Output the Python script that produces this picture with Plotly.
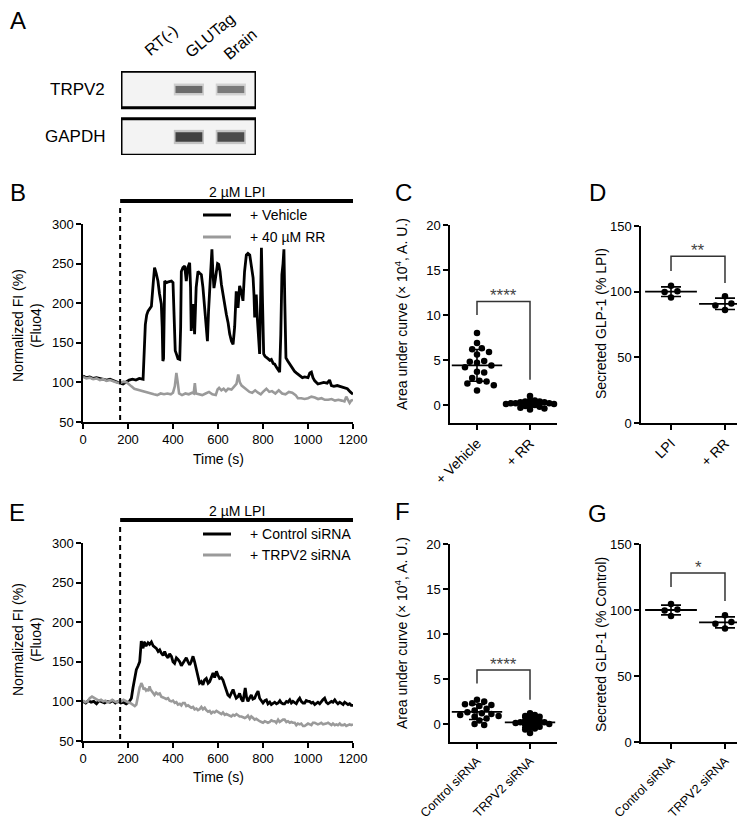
import numpy as np
import plotly.graph_objects as go

# ---------------- DATA ----------------
# Panel A (RT-PCR gel): band intensities (0 = none)
gel_lanes = ["RT(-)", "GLUTag", "Brain"]
gel_genes = ["GAPDH", "TRPV2"]            # row 0, row 1
gel_intensity = [[0.0, 0.80, 0.76],      # GAPDH
                 [0.0, 0.62, 0.56]]      # TRPV2

# Panel B: calcium traces, time (s) / normalized FI (%)
veh_t = [0, 15, 30, 45, 60, 75, 90, 105, 120, 135, 150, 165, 178, 190, 205, 220, 235, 250, 267,
         277, 283, 289, 297, 304, 312, 318, 325, 333, 340, 348, 352, 355, 358, 363, 372, 380, 393,
         400, 404, 410, 415, 422, 430, 434, 437, 444, 452, 456, 459, 466, 474, 478, 481, 485, 489,
         493, 496, 503, 511, 518, 526, 533, 541, 547, 553, 558, 563, 568, 573, 577, 582, 588, 593,
         598, 603, 609, 615, 625, 637, 645, 652, 660, 667, 674, 681, 685, 689, 696, 703, 711, 718,
         726, 733, 741, 748, 756, 760, 763, 767, 770, 775, 781, 785, 789, 793, 798, 803, 809, 815,
         822, 830, 837, 845, 852, 860, 867, 874, 879, 884, 889, 893, 897, 902, 910, 919, 930, 940,
         948, 956, 965, 975, 985, 1000, 1008, 1015, 1022, 1030, 1044, 1055, 1070, 1085, 1096, 1104,
         1115, 1130, 1148, 1160, 1175, 1188, 1200]
veh_fi = [108, 106, 107, 105, 106, 105, 104, 103, 104, 102, 101, 99, 98, 100, 103, 104, 103, 105, 104,
          173, 185, 190, 193, 196, 225, 245, 238, 228, 212, 199, 170, 127, 130, 228, 226, 227, 228,
          226, 190, 140, 136, 130, 129, 170, 240, 245, 247, 230, 228, 245, 251, 220, 165, 180, 199,
          180, 161, 220, 240, 238, 236, 220, 194, 170, 152, 190, 219, 245, 268, 240, 219, 230, 245,
          250, 249, 240, 224, 205, 186, 175, 161, 152, 148, 170, 215, 205, 194, 222, 215, 203, 240,
          261, 263, 261, 245, 232, 210, 182, 200, 211, 180, 150, 136, 200, 270, 200, 136, 133, 131,
          130, 128, 129, 124, 123, 119, 116, 113, 160, 236, 250, 268, 200, 131, 127, 123, 118, 114,
          112, 110, 108, 106, 107, 106, 112, 113, 106, 102, 98, 99, 100, 99, 103, 96,
          95, 96, 94, 93, 92, 88, 85]
rr_t = [0, 15, 30, 45, 60, 75, 90, 105, 120, 135, 150, 165, 180, 195, 205, 215, 228, 240, 255, 270,
        285, 300, 315, 330, 345, 360, 375, 390, 400, 408, 415, 421, 427, 440, 455, 470, 485, 492, 497,
        502, 515, 530, 545, 560, 575, 590, 598, 605, 615, 625, 635, 645, 660, 672, 682, 690, 697, 705,
        715, 728, 740, 752, 765, 778, 790, 800, 815, 828, 840, 855, 870, 885, 900, 915, 930, 945, 955,
        970, 985, 1000, 1015, 1030, 1045, 1060, 1075, 1090, 1105, 1120, 1135, 1150, 1162, 1170, 1178,
        1185, 1192, 1200]
rr_fi = [107, 105, 106, 104, 105, 103, 104, 102, 103, 101, 100, 99, 101, 100, 97, 95, 92, 91, 89, 88,
         87, 86, 85, 84, 86, 85, 86, 85, 87, 95, 112, 100, 86, 84, 86, 85, 87, 86, 99,
         86, 85, 84, 86, 88, 85, 84, 91, 93, 90, 92, 89, 92, 91, 95, 98, 110, 100, 96,
         94, 91, 88, 87, 90, 87, 85, 88, 92, 88, 89, 86, 90, 86, 85, 88, 87, 84, 80,
         80, 79, 80, 82, 81, 79, 80, 78, 78, 79, 77, 78, 77, 76, 82, 78,
         74, 77, 78]

# Panel E: calcium traces
ctl_t = [0, 12, 24, 36, 48, 60, 72, 84, 96, 108, 120, 132, 144, 156, 168, 180, 192, 204, 215, 222, 230,
         237, 245, 252, 259, 263, 267, 271, 274, 280, 289, 296, 304, 312, 319, 326, 334, 341, 348, 356,
         363, 370, 378, 385, 393, 400, 407, 415, 422, 430, 437, 444, 452, 459, 467, 474, 481, 489, 496,
         504, 511, 518, 526, 533, 540, 548, 556, 563, 570, 578, 585, 593, 600, 607, 615, 622, 630, 637,
         644, 652, 659, 667, 674, 681, 689, 696, 704, 711, 716, 721, 727, 733, 740, 748, 755, 763, 770,
         778, 785, 793, 800, 808, 815, 822, 830, 837, 845, 852, 860, 867, 875, 882, 889, 896, 904, 911,
         919, 926, 933, 941, 948, 955, 963, 970, 978, 985, 992, 1000, 1007, 1015, 1022, 1030, 1037, 1044,
         1052, 1059, 1066, 1074, 1081, 1089, 1096, 1104, 1111, 1119, 1126, 1133, 1141, 1148, 1156, 1163,
         1170, 1178, 1185, 1192, 1200]
ctl_fi = [100, 98, 101, 99, 100, 97, 101, 99, 98, 100, 99, 101, 98, 100, 98, 99, 97, 99, 104, 117, 128,
          140, 145, 150, 176, 170, 167, 175, 174, 170, 174, 172, 175, 170, 168, 167, 163, 165, 161, 158,
          163, 158, 155, 160, 157, 150, 148, 155, 153, 150, 145, 148, 151, 155, 150, 146, 150, 157, 150,
          140, 132, 123, 125, 121, 127, 129, 123, 125, 130, 136, 130, 138, 133, 129, 130, 127, 120, 113,
          108, 106, 110, 115, 109, 104, 106, 110, 103, 100, 108, 117, 105, 100, 104, 108, 103, 104, 109,
          113, 104, 100, 98, 101, 102, 97, 99, 96, 98, 99, 97, 98, 101, 98, 97, 97, 100, 99,
          102, 98, 100, 98, 97, 101, 104, 100, 98, 98, 101, 100, 100, 98, 99, 96, 98, 99,
          97, 100, 102, 104, 99, 97, 98, 100, 99, 102, 99, 97, 99, 98, 96, 99,
          98, 96, 97, 95, 95]
si_t = [0, 10, 20, 30, 40, 50, 60, 70, 80, 90, 100, 110, 120, 130, 140, 150, 160, 170, 180, 190, 200,
        210, 220, 230, 237, 243, 247, 252, 256, 259, 263, 267, 270, 274, 280, 285, 289, 293, 296, 300,
        307, 313, 318, 325, 333, 341, 348, 356, 363, 370, 378, 385, 393, 400, 408, 415, 422, 430, 437,
        444, 452, 459, 467, 474, 481, 489, 496, 504, 511, 518, 526, 533, 541, 548, 556, 563, 570, 578,
        585, 593, 600, 608, 615, 622, 630, 637, 644, 652, 659, 667, 674, 682, 689, 696, 704, 711, 719,
        726, 733, 741, 748, 756, 763, 770, 778, 785, 793, 800, 808, 815, 822, 830, 837, 845, 852, 859,
        867, 874, 882, 889, 896, 904, 911, 919, 926, 933, 941, 948, 955, 963, 970, 978, 985, 993, 1000,
        1008, 1015, 1022, 1030, 1037, 1044, 1052, 1059, 1067, 1074, 1081, 1089, 1096, 1104, 1111, 1119,
        1126, 1133, 1141, 1148, 1156, 1163, 1170, 1178, 1185, 1192, 1200]
si_fi = [101, 99, 100, 104, 106, 104, 103, 101, 102, 100, 101, 99, 100, 102, 100, 99, 101, 100, 102, 100, 99,
         98, 96, 94, 96, 106, 113, 118, 120, 123, 121, 118, 115, 117, 114, 116, 113, 115, 119, 115,
         112, 110, 108, 111, 109, 110, 106, 105, 104, 103, 104, 101, 100, 101, 98, 99, 96, 97, 95,
         98, 98, 94, 95, 93, 92, 93, 90, 91, 89, 90, 93, 90, 92, 89, 87, 88, 85, 87,
         86, 88, 87, 85, 84, 86, 83, 84, 83, 82, 81, 83, 82, 84, 83, 81, 81, 80, 79,
         80, 82, 78, 81, 79, 77, 78, 76, 75, 74, 73, 75, 74, 73, 74, 76, 75, 75, 73,
         77, 74, 76, 77, 77, 74, 75, 73, 74, 73, 73, 70, 72, 71, 72, 69, 69, 71, 72,
         71, 70, 73, 73, 72, 71, 72, 73, 71, 72, 72, 73, 71, 70, 72, 70,
         71, 70, 72, 70, 70, 71, 69, 70, 71, 70, 71]

# Panel C: AUC (x 10^4, A.U.)
c_groups = ["+ Vehicle", "+ RR"]
c_vehicle = [8.0, 6.9, 6.3, 6.2, 5.9, 5.6, 4.7, 4.9, 4.8, 4.4, 4.2, 3.7, 3.6, 3.0, 2.7, 2.6, 2.4, 2.2, 1.6]
c_rr = [1.0, 0.5, 0.5, 0.4, 0.4, 0.3, 0.3, 0.2, 0.2, 0.2, 0.1, 0.1, 0.1, 0.0, 0.0, -0.1, -0.2, -0.3, -0.4, -0.5]

# Panel D: secreted GLP-1 (% LPI)
d_groups = ["LPI", "+ RR"]
d_lpi = [104.5, 95.5, 100.3, 99.7]
d_rr = [96.5, 86.0, 91.0, 89.5]

# Panel F: AUC
f_groups = ["Control siRNA", "TRPV2 siRNA"]
f_ctl = [2.7, 2.5, 2.3, 2.2, 2.1, 2.0, 1.7, 1.5, 1.3, 1.2, 1.1, 1.0, 0.9, 0.8, 0.6, 0.4, 0.0, -0.1]
f_si = [1.2, 1.0, 0.9, 0.8, 0.6, 0.5, 0.4, 0.3, 0.2, 0.2, 0.1, 0.1, 0.0, 0.0, -0.1, -0.3, -0.4, -0.5, -0.6, -1.0]

# Panel G: secreted GLP-1 (% Control)
g_groups = ["Control siRNA", "TRPV2 siRNA"]
g_ctl = [104.5, 95.5, 100.3, 99.7]
g_si = [96.0, 86.0, 91.0, 89.5]

# significance brackets: (left foot, top, right foot), label
sig_C = ([10.0, 11.5, 2.8], "****")
sig_D = ([115.7, 127.0, 106.6], "**")
sig_F = ([4.5, 6.0, 2.7], "****")
sig_G = ([117.4, 128.0, 106.8], "*")

lpi_start = 165  # s

time_ticks = [0, 200, 400, 600, 800, 1000, 1200]
fi_ticks = [50, 100, 150, 200, 250, 300]
auc_ticks = [0, 5, 10, 15, 20]
glp_ticks = [0, 50, 100, 150]

# ---------------- LAYOUT HELPERS ----------------
W, H = 745, 816
FONT = "Liberation Sans, Arial, sans-serif"
GRAY = "#9a9a9a"


def PX(x):
    return x / W


def PY(y):
    return 1 - y / H


def dx(a, b):
    return [a / W, b / W]


def dy(top, bottom):
    return [1 - bottom / H, 1 - top / H]


fig = go.Figure()

# ---------------- Traces B / E ----------------
fig.add_trace(go.Scatter(x=veh_t, y=veh_fi, mode="lines", line=dict(color="black", width=2.8),
                         xaxis="x", yaxis="y", showlegend=False))
fig.add_trace(go.Scatter(x=rr_t, y=rr_fi, mode="lines", line=dict(color=GRAY, width=2.6),
                         xaxis="x", yaxis="y", showlegend=False))
fig.add_trace(go.Scatter(x=ctl_t, y=ctl_fi, mode="lines", line=dict(color="black", width=2.8),
                         xaxis="x4", yaxis="y4", showlegend=False))
fig.add_trace(go.Scatter(x=si_t, y=si_fi, mode="lines", line=dict(color=GRAY, width=2.6),
                         xaxis="x4", yaxis="y4", showlegend=False))


# ---------------- Dot plots ----------------
def swarm(vals, ppu_x, ppu_y, diam, step):
    placed = []
    out = []
    for v in vals:
        yv = v * ppu_y
        cands = [0.0]
        for i in range(1, 60):
            cands += [i * step, -i * step]
        chosen = 0.0
        for c in cands:
            if all((c - a) ** 2 + (yv - b) ** 2 >= diam ** 2 for a, b in placed):
                chosen = c
                break
        placed.append((chosen, yv))
        out.append(chosen / ppu_x)
    return out


def dotplot(groups_vals, xa, ya, ppu_x, ppu_y, diams, step, meanw, capw):
    for i, vals in enumerate(groups_vals):
        offs = swarm(vals, ppu_x, ppu_y, diams[i], step)
        fig.add_trace(go.Scatter(x=[i + o for o in offs], y=vals, mode="markers",
                                 marker=dict(color="black", size=6.5),
                                 xaxis=xa, yaxis=ya, showlegend=False, cliponaxis=False))
        m = float(np.mean(vals))
        sd = float(np.std(vals, ddof=1))
        fig.add_trace(go.Scatter(x=[i], y=[m], mode="markers",
                                 marker=dict(symbol="line-ew", size=meanw,
                                             line=dict(color="black", width=1.8)),
                                 error_y=dict(type="data", array=[sd], visible=True,
                                              color="black", thickness=1.6, width=capw),
                                 xaxis=xa, yaxis=ya, showlegend=False, cliponaxis=False))


# pixel scales
dotplot([c_vehicle, c_rr], "x2", "y2", 53.0, 9.0, [6.8, 4.4], 2.4, 36, 8)
dotplot([d_lpi, d_rr], "x3", "y3", 54.0, 197 / 150, [8.0, 8.0], 3.2, 37, 10)
dotplot([f_ctl, f_si], "x5", "y5", 53.0, 9.0, [6.0, 4.4], 2.4, 36, 8)
dotplot([g_ctl, g_si], "x6", "y6", 54.0, 198 / 150, [8.0, 8.0], 3.2, 37, 10)

shapes = []
annotations = []


def bracket(xa, ya, sig, shift):
    (lf, top, rf), lab = sig
    shapes.append(dict(type="path", xref=xa, yref=ya,
                       path=f"M 0,{lf} L 0,{top} L 1,{top} L 1,{rf}",
                       line=dict(color="#333333", width=1.5)))
    annotations.append(dict(x=0.5, y=top, xref=xa, yref=ya, text=lab, showarrow=False,
                            yanchor="bottom", yshift=shift,
                            font=dict(family=FONT, size=17, color="#444444")))


bracket("x2", "y2", sig_C, -6)
bracket("x3", "y3", sig_D, -6)
bracket("x5", "y5", sig_F, -6)
bracket("x6", "y6", sig_G, -6)

# ---------------- Axes ----------------
tickfont = dict(family=FONT, size=13, color="black")
base = dict(showline=True, linecolor="black", linewidth=1.5, ticks="outside", ticklen=5,
            tickwidth=1.5, tickcolor="black", showgrid=False, zeroline=False, tickfont=tickfont,
            automargin=False)
catfont = dict(family=FONT, size=14, color="black")
catfont_small = dict(family=FONT, size=12.5, color="black")

layout_axes = {}
# B
layout_axes["xaxis"] = dict(base, domain=dx(75, 345), range=[0, 1200], tickvals=time_ticks, anchor="y")
layout_axes["yaxis"] = dict(base, domain=dy(216, 414), range=[50, 300], tickvals=fi_ticks, anchor="x")
# E
layout_axes["xaxis4"] = dict(base, domain=dx(75, 345), range=[0, 1200], tickvals=time_ticks, anchor="y4")
layout_axes["yaxis4"] = dict(base, domain=dy(535, 733), range=[50, 300], tickvals=fi_ticks, anchor="x4")
# C
layout_axes["xaxis2"] = dict(base, domain=dx(442, 549), range=[-0.509, 1.509], tickvals=[0, 1],
                             ticktext=c_groups, tickangle=-45, anchor="y2", tickfont=catfont)
layout_axes["yaxis2"] = dict(base, domain=dy(217, 415), range=[-2, 20], tickvals=auc_ticks, anchor="x2")
# D
layout_axes["xaxis3"] = dict(base, domain=dx(633, 745), range=[-0.556, 1.519], tickvals=[0, 1],
                             ticktext=d_groups, tickangle=-45, anchor="y3", tickfont=catfont)
layout_axes["yaxis3"] = dict(base, domain=dy(218, 415), range=[0, 150], tickvals=glp_ticks, anchor="x3")
# F
layout_axes["xaxis5"] = dict(base, domain=dx(442, 549), range=[-0.509, 1.509], tickvals=[0, 1],
                             ticktext=f_groups, tickangle=-45, anchor="y5", tickfont=catfont_small)
layout_axes["yaxis5"] = dict(base, domain=dy(536, 734), range=[-2, 20], tickvals=auc_ticks, anchor="x5")
# G
layout_axes["xaxis6"] = dict(base, domain=dx(633, 745), range=[-0.556, 1.519], tickvals=[0, 1],
                             ticktext=g_groups, tickangle=-45, anchor="y6", tickfont=catfont_small)
layout_axes["yaxis6"] = dict(base, domain=dy(536, 734), range=[0, 150], tickvals=glp_ticks, anchor="x6")
# gel
layout_axes["xaxis7"] = dict(domain=dx(113, 248), range=[-0.62, 2.6], visible=False, anchor="y7")
layout_axes["yaxis7"] = dict(domain=dy(63, 147), range=[-0.379, 1.389], visible=False, anchor="x7")

# ---------------- Gel (panel A) ----------------
for r, gene in enumerate(gel_genes):
    shapes.append(dict(type="rect", xref="x7", yref="y7", x0=-0.62, x1=2.6, y0=r - 0.385, y1=r + 0.385,
                       fillcolor="#f3f3f3", line=dict(color="black", width=3)))
    half_h = 0.10 if gene == "GAPDH" else 0.075
    for l, inten in enumerate(gel_intensity[r]):
        if inten <= 0:
            continue
        g = int(round(255 * (1 - inten)))
        col = f"rgb({g},{g},{g})"
        shapes.append(dict(type="rect", xref="x7", yref="y7", x0=l - 0.36, x1=l + 0.36,
                           y0=r - half_h - 0.05, y1=r + half_h + 0.05, fillcolor=col, opacity=0.25,
                           line=dict(width=0)))
        shapes.append(dict(type="rect", xref="x7", yref="y7", x0=l - 0.32, x1=l + 0.32,
                           y0=r - half_h, y1=r + half_h, fillcolor=col, opacity=0.9,
                           line=dict(width=0)))
    annotations.append(dict(x=PX(99), y=r, xref="paper", yref="y7", text=gene, showarrow=False,
                            xanchor="right", yanchor="middle",
                            font=dict(family=FONT, size=17, color="black")))

lane_label_pos = [(153, 33), (202, 28), (232, 37)]
for lab, (lx, ly) in zip(gel_lanes, lane_label_pos):
    annotations.append(dict(x=PX(lx), y=PY(ly), xref="paper", yref="paper", text=lab, showarrow=False,
                            textangle=-40, xanchor="center", yanchor="middle",
                            font=dict(family=FONT, size=16, color="black")))

# ---------------- LPI bars, dashed lines, legends ----------------
for xa, bar_y, text_y, top_dash, bottom in [("x", 193, 184, 200, 414), ("x4", 512, 503, 519, 733)]:
    shapes.append(dict(type="line", xref=xa, yref="paper", x0=lpi_start, x1=1200, y0=PY(bar_y), y1=PY(bar_y),
                       line=dict(color="black", width=4)))
    shapes.append(dict(type="line", xref=xa, yref="paper", x0=lpi_start, x1=lpi_start, y0=PY(top_dash),
                       y1=PY(bottom), line=dict(color="black", width=2, dash="5px,4px")))
    annotations.append(dict(x=(lpi_start + 1200) / 2, y=PY(text_y), xref=xa, yref="paper",
                            text="2 µM LPI", showarrow=False, xanchor="center", yanchor="middle",
                            font=dict(family=FONT, size=14, color="black")))

legend_items = [("+ Vehicle", "black", 207), ("+ 40 µM RR", GRAY, 229),
                ("+ Control siRNA", "black", 526), ("+ TRPV2 siRNA", GRAY, 547)]
for lab, col, ly in legend_items:
    shapes.append(dict(type="line", xref="paper", yref="paper", x0=PX(195), x1=PX(223), y0=PY(ly), y1=PY(ly),
                       line=dict(color=col, width=3)))
    annotations.append(dict(x=PX(240), y=PY(ly), xref="paper", yref="paper", text=lab, showarrow=False,
                            xanchor="left", yanchor="middle",
                            font=dict(family=FONT, size=14, color="black")))

# ---------------- Axis titles ----------------
tfont = dict(family=FONT, size=14, color="black")
for tx, ty, txt in [(19, 318, "Normalized FI (%)<br>(Fluo4)"), (19, 632, "Normalized FI (%)<br>(Fluo4)"),
                    (393, 306, "Area under curve (× 10<sup>4</sup>, A. U.)"),
                    (393, 625, "Area under curve (× 10<sup>4</sup>, A. U.)"),
                    (593, 316, "Secreted GLP-1 (% LPI)"),
                    (593, 637, "Secreted GLP-1 (% Control)")]:
    annotations.append(dict(x=PX(tx), y=PY(ty), xref="paper", yref="paper", text=txt, showarrow=False,
                            textangle=-90, xanchor="center", yanchor="middle", font=tfont))
for ty in [451, 769]:
    annotations.append(dict(x=PX(210), y=PY(ty), xref="paper", yref="paper", text="Time (s)",
                            showarrow=False, xanchor="center", yanchor="middle", font=tfont))

# ---------------- Panel letters ----------------
for lab, lx, ly in [("A", 10, 13), ("B", 10, 185), ("C", 395, 185), ("D", 589, 185),
                    ("E", 9, 504), ("F", 394, 503), ("G", 589, 505)]:
    annotations.append(dict(x=PX(lx), y=PY(ly), xref="paper", yref="paper", text=lab, showarrow=False,
                            xanchor="center", yanchor="middle",
                            font=dict(family=FONT, size=24, color="black")))

fig.update_layout(width=W, height=H, margin=dict(l=0, r=0, t=0, b=0, autoexpand=False), autosize=False,
                  paper_bgcolor="white", plot_bgcolor="white", showlegend=False,
                  shapes=shapes, annotations=annotations, **layout_axes)

fig.write_html("out.html")
